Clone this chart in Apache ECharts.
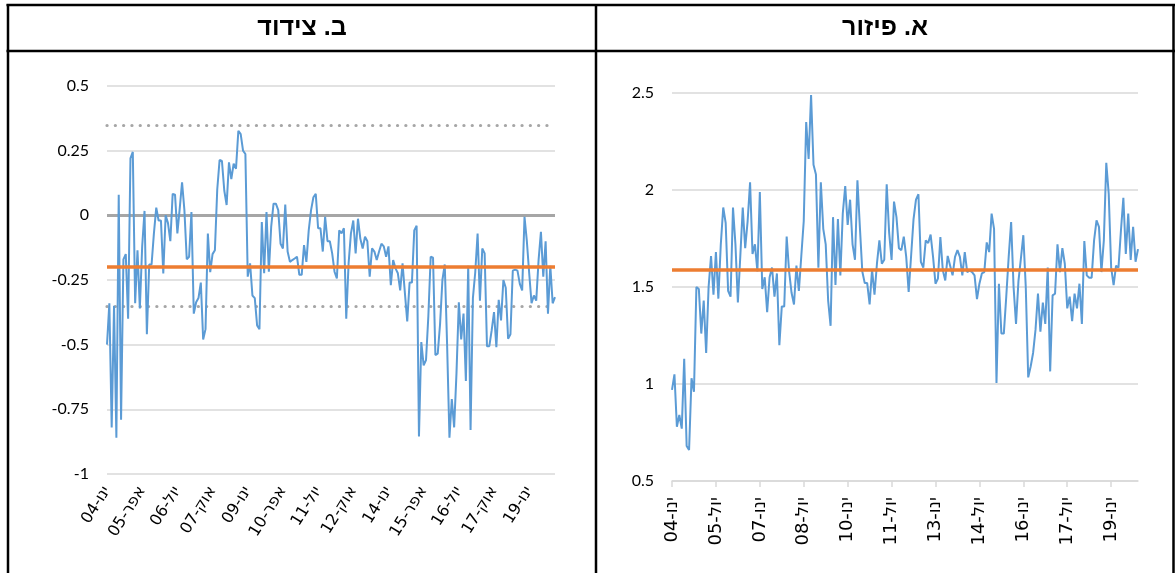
<!DOCTYPE html>
<html><head><meta charset="utf-8">
<script src="https://cdn.jsdelivr.net/npm/echarts@6/dist/echarts.min.js"></script>
<style>html,body{margin:0;padding:0;background:#fff}#c{width:1175px;height:573px}</style>
</head><body><div id="c"></div>
<script>
const monthNames = ['ינו','פבר','מרץ','אפר','מאי','יונ','יול','אוג','ספט','אוק','נוב','דצמ'];
const startYear = 2004;
const nMonths = 192;
const categories = [];
for (let k = 0; k < nMonths; k++) {
  const yy = startYear + Math.floor(k / 12);
  categories.push(monthNames[k % 12] + '-' + String(yy % 100).padStart(2, '0'));
}
const titles = ['ב. צידוד', 'א. פיזור'];

// Skewness (panel ב)
const skew = [
-0.50,-0.34,-0.82,-0.35,-0.86,0.08,-0.79,-0.17,-0.15,-0.40,
0.22,0.245,-0.34,-0.135,-0.36,-0.12,0.017,-0.46,-0.19,-0.19,
-0.07,0.03,-0.02,-0.02,-0.225,0.0,-0.03,-0.10,0.083,0.08,
-0.07,0.026,0.128,0.02,-0.17,-0.16,0.013,-0.38,-0.336,-0.32,
-0.26,-0.48,-0.44,-0.07,-0.22,-0.15,-0.135,0.10,0.214,0.21,
0.096,0.04,0.205,0.14,0.20,0.18,0.327,0.314,0.25,0.237,
-0.237,-0.186,-0.31,-0.32,-0.426,-0.44,-0.026,-0.224,0.013,-0.218,
-0.045,0.045,0.045,0.02,-0.11,-0.128,0.042,-0.14,-0.18,-0.173,
-0.167,-0.16,-0.23,-0.23,-0.115,-0.18,-0.058,0.02,0.07,0.083,
-0.05,-0.05,-0.14,-0.006,-0.10,-0.10,-0.147,-0.218,-0.244,-0.058,
-0.07,-0.05,-0.40,-0.186,-0.07,-0.02,-0.147,-0.013,-0.09,-0.128,
-0.083,-0.10,-0.237,-0.128,-0.14,-0.173,-0.14,-0.11,-0.12,-0.16,
-0.12,-0.27,-0.173,-0.205,-0.224,-0.29,-0.186,-0.30,-0.41,-0.26,
-0.26,-0.058,-0.04,-0.855,-0.49,-0.58,-0.56,-0.39,-0.16,-0.164,
-0.54,-0.535,-0.42,-0.25,-0.19,-0.50,-0.86,-0.71,-0.82,-0.61,
-0.336,-0.48,-0.38,-0.64,-0.195,-0.83,-0.32,-0.22,-0.07,-0.33,
-0.128,-0.147,-0.506,-0.506,-0.445,-0.374,-0.51,-0.327,-0.406,-0.25,
-0.28,-0.477,-0.46,-0.214,-0.21,-0.214,-0.265,-0.29,-0.006,-0.10,
-0.224,-0.34,-0.31,-0.33,-0.173,-0.064,-0.237,-0.10,-0.38,-0.195,
-0.34,-0.316
];
// Dispersion (panel א)
const dispersion = [
0.97,1.05,0.78,0.84,0.77,1.13,0.68,0.66,1.03,0.96,
1.50,1.49,1.26,1.43,1.16,1.50,1.66,1.46,1.68,1.44,
1.72,1.91,1.83,1.48,1.45,1.91,1.72,1.42,1.66,1.91,
1.70,1.84,2.04,1.67,1.72,1.58,1.99,1.49,1.55,1.37,
1.55,1.60,1.45,1.57,1.20,1.40,1.40,1.76,1.58,1.47,
1.41,1.61,1.48,1.66,1.84,2.35,2.16,2.49,2.13,2.08,
1.60,2.04,1.80,1.72,1.43,1.30,1.86,1.51,1.85,1.56,
1.88,2.02,1.82,1.95,1.72,1.64,2.05,1.81,1.58,1.52,
1.52,1.41,1.59,1.46,1.62,1.74,1.62,1.64,2.03,1.78,
1.64,1.94,1.86,1.70,1.69,1.76,1.655,1.474,1.66,1.85,
1.95,1.978,1.63,1.60,1.74,1.727,1.77,1.655,1.517,1.543,
1.758,1.586,1.534,1.66,1.61,1.56,1.655,1.69,1.655,1.56,
1.68,1.577,1.586,1.577,1.56,1.438,1.517,1.57,1.577,1.73,
1.68,1.878,1.80,1.005,1.517,1.26,1.26,1.45,1.655,1.835,
1.50,1.31,1.53,1.646,1.767,1.50,1.034,1.09,1.16,1.28,
1.466,1.27,1.42,1.31,1.60,1.065,1.457,1.466,1.72,1.577,
1.70,1.62,1.39,1.45,1.324,1.466,1.39,1.517,1.31,1.737,
1.56,1.548,1.548,1.74,1.844,1.81,1.577,1.74,2.14,1.98,
1.60,1.51,1.61,1.60,1.79,1.96,1.67,1.878,1.64,1.81,
1.63,1.695
];
const skewZero = 0;
const skewBand = [0.35, -0.35];
const skewMean = -0.205;
const dispMean = 1.59;
const skewAxis = { min: -1, max: 0.5, interval: 0.25 };
const dispAxis = { min: 0.5, max: 2.5, interval: 0.5 };

const BLUE = '#5b9bd5', ORANGE = '#ed7d31', GRID = '#d9d9d9', GREY = '#a6a6a6';
const numFont = 'Lato, "Liberation Sans", sans-serif';
const catFont = '"DejaVu Sans", sans-serif';

const chart = echarts.init(document.getElementById('c'), null, { renderer: 'canvas' });
const yBase = {
  type: 'value',
  axisLine: { show: false }, axisTick: { show: false },
  axisLabel: { color: '#000', fontSize: 16, fontFamily: numFont, margin: 18 },
  splitLine: { lineStyle: { color: GRID, width: 1.5 } }
};
const option = {
  animation: false,
  backgroundColor: '#fff',
  grid: [
    { left: 107, top: 86, width: 448, height: 388 },
    { left: 672, top: 93, width: 466, height: 388 }
  ],
  xAxis: [
    { type: 'category', gridIndex: 0, data: categories, boundaryGap: false,
      axisLine: { show: false, onZero: false }, axisTick: { show: false },
      axisLabel: { interval: 14, rotate: 58, margin: 14, color: '#000', fontSize: 16, fontFamily: catFont } },
    { type: 'category', gridIndex: 1, data: categories, boundaryGap: false,
      axisLine: { show: true, onZero: false, lineStyle: { color: GRID, width: 1.5 } },
      axisTick: { show: true, interval: 17, length: 6, lineStyle: { color: GRID, width: 1.5 } },
      axisLabel: { interval: 17, rotate: 90, margin: 16, color: '#000', fontSize: 18, fontFamily: catFont } }
  ],
  yAxis: [
    Object.assign({}, yBase, { gridIndex: 0 }, skewAxis),
    Object.assign({}, yBase, { gridIndex: 1 }, dispAxis)
  ],
  series: [
    { type: 'line', xAxisIndex: 0, yAxisIndex: 0, data: skew, symbol: 'none', z: 1,
      lineStyle: { opacity: 0 }, silent: true,
      markLine: { silent: true, symbol: 'none', label: { show: false }, z: 1,
        data: [
          { yAxis: skewZero, lineStyle: { color: GREY, width: 3, type: 'solid' } },
          { yAxis: skewBand[0], lineStyle: { color: GREY, width: 3.2, type: [0.1, 8.2], cap: 'round' } },
          { yAxis: skewBand[1], lineStyle: { color: GREY, width: 3.2, type: [0.1, 8.2], cap: 'round' } }
        ] } },
    { type: 'line', xAxisIndex: 0, yAxisIndex: 0, data: skew, symbol: 'none', z: 3,
      lineStyle: { color: BLUE, width: 2 } },
    { type: 'line', xAxisIndex: 0, yAxisIndex: 0, data: skew, symbol: 'none', z: 4,
      lineStyle: { opacity: 0 }, silent: true,
      markLine: { silent: true, symbol: 'none', label: { show: false }, z: 6,
        data: [ { yAxis: skewMean, lineStyle: { color: ORANGE, width: 3.5, type: 'solid' } } ] } },
    { type: 'line', xAxisIndex: 1, yAxisIndex: 1, data: dispersion, symbol: 'none', z: 3,
      lineStyle: { color: BLUE, width: 2 } },
    { type: 'line', xAxisIndex: 1, yAxisIndex: 1, data: dispersion, symbol: 'none', z: 4,
      lineStyle: { opacity: 0 }, silent: true,
      markLine: { silent: true, symbol: 'none', label: { show: false }, z: 6,
        data: [ { yAxis: dispMean, lineStyle: { color: ORANGE, width: 3.5, type: 'solid' } } ] } }
  ],
  graphic: [
    { type: 'line', shape: { x1: 6.5, y1: 5, x2: 1175, y2: 5 }, style: { stroke: '#000', lineWidth: 2.5 } },
    { type: 'line', shape: { x1: 6.5, y1: 51, x2: 1175, y2: 51 }, style: { stroke: '#000', lineWidth: 2.5 } },
    { type: 'line', shape: { x1: 8, y1: 4, x2: 8, y2: 573 }, style: { stroke: '#000', lineWidth: 2.5 } },
    { type: 'line', shape: { x1: 596, y1: 4, x2: 596, y2: 573 }, style: { stroke: '#000', lineWidth: 2.5 } },
    { type: 'line', shape: { x1: 1173.5, y1: 4, x2: 1173.5, y2: 573 }, style: { stroke: '#000', lineWidth: 2.5 } },
    { type: 'text', x: 302, y: 28, style: { text: titles[0], textAlign: 'center', textVerticalAlign: 'middle',
        font: 'bold 25px "Liberation Sans", Arial, sans-serif', fill: '#000' } },
    { type: 'text', x: 885, y: 28, style: { text: titles[1], textAlign: 'center', textVerticalAlign: 'middle',
        font: 'bold 25px "Liberation Sans", Arial, sans-serif', fill: '#000' } }
  ]
};
chart.setOption(option);
</script>
</body></html>
